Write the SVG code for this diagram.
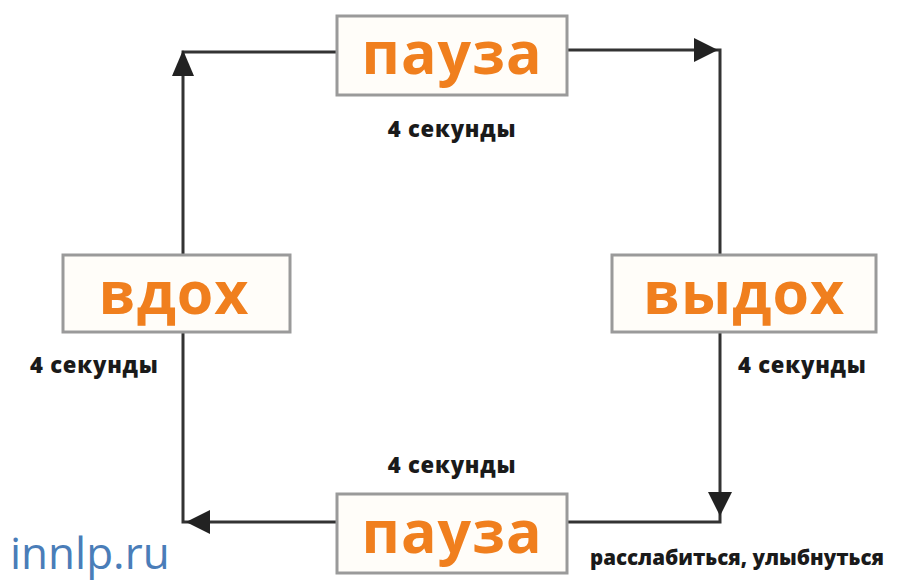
<svg xmlns="http://www.w3.org/2000/svg" width="897" height="581" viewBox="0 0 897 581">
<style>
.box{fill:#fffdf9;stroke:#9a9a9a;stroke-width:3}
.big{font-family:"Open Sans","Noto Sans",sans-serif;font-weight:700;font-size:59px;fill:#f07f1e;text-anchor:middle;letter-spacing:1px}
.sec{font-family:"Open Sans","Noto Sans",sans-serif;font-weight:800;font-size:22px;fill:#1a1a1a;letter-spacing:0.8px}
.note{font-family:"Open Sans","Noto Sans",sans-serif;font-weight:800;font-size:20.5px;fill:#1a1a1a}
.ln{stroke:#333;stroke-width:3;fill:none}
</style>
<rect width="897" height="581" fill="#ffffff"/>
<g id="connectors">
<path class="ln" d="M183,255 V52 H337" />
<path d="M183,50 L172,76 L194,76 Z" fill="#222"/>
<path class="ln" d="M567,50 H720 V258" />
<path d="M718,50 L694,38 L694,62 Z" fill="#222"/>
<path class="ln" d="M720,332 V522 H567" />
<path d="M720,516 L708,492 L732,492 Z" fill="#222"/>
<path class="ln" d="M337,522 H183 V332" />
<path d="M186,522 L210,510 L210,534 Z" fill="#222"/>
</g>
<g id="pause-top">
<rect class="box" x="337" y="16" width="230" height="79"/>
<text class="big" x="452" y="74">пауза</text>
<text class="sec" x="452" y="137" text-anchor="middle">4 секунды</text>
</g>
<g id="inhale">
<rect class="box" x="63" y="255" width="227" height="77"/>
<text class="big" x="174" y="314">вдох</text>
<text class="sec" x="30" y="373">4 секунды</text>
</g>
<g id="exhale">
<rect class="box" x="612" y="255" width="264" height="77"/>
<text class="big" x="744" y="314">выдох</text>
<text class="sec" x="738" y="373">4 секунды</text>
</g>
<g id="pause-bottom">
<rect class="box" x="337" y="494" width="230" height="79"/>
<text class="big" x="452" y="553">пауза</text>
<text class="sec" x="452" y="473" text-anchor="middle">4 секунды</text>
<text class="note" x="590" y="565">расслабиться, улыбнуться</text>
</g>
<text x="10" y="569" font-family="Open Sans, Noto Sans, sans-serif" font-size="44" fill="#4a7db8">innlp.ru</text>
</svg>
